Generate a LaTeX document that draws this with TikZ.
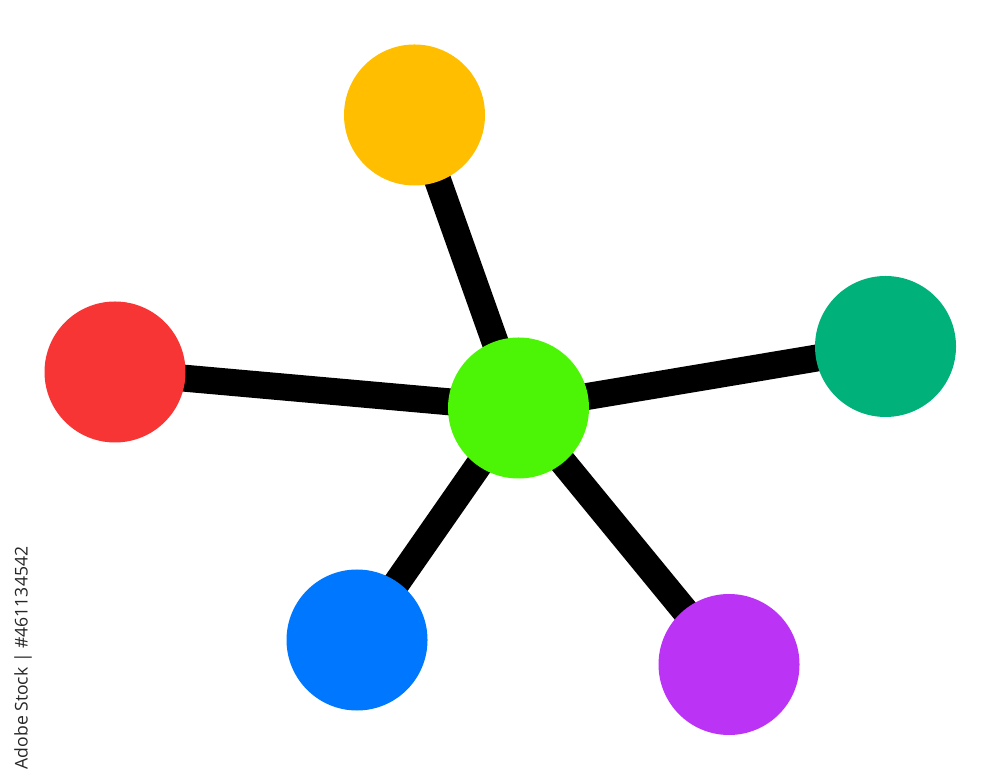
\documentclass[tikz,border=0pt]{standalone}
\usepackage{fontspec}
\setmainfont{Open Sans}
\usetikzlibrary{backgrounds}

\definecolor{hubgreen}{HTML}{4CF505}
\definecolor{atomyellow}{HTML}{FFBE00}
\definecolor{atomred}{HTML}{F73535}
\definecolor{atomteal}{HTML}{00B27A}
\definecolor{atomblue}{HTML}{0077FF}
\definecolor{atompurple}{HTML}{BB33F5}

\begin{document}
\begin{tikzpicture}[
    atom/.style={circle, minimum size=1.41cm, inner sep=0pt},
    bond/.style={line width=0.27cm, black}
]

    % 1. Fix the frame of the picture
    \useasboundingbox (0,0) rectangle (10,7.8);

    % 2. The hub in the middle
    \node[atom, fill=hubgreen] (hub) at (5.185,3.72) {};

    % 3. The five outer atoms
    \node[atom, fill=atomyellow] (yellow) at (4.145,6.65) {};
    \node[atom, fill=atomred]    (red)    at (1.15,4.08)  {};
    \node[atom, fill=atomteal]   (teal)   at (8.855,4.335) {};
    \node[atom, fill=atomblue]   (blue)   at (3.57,1.40)  {};
    \node[atom, fill=atompurple] (purple) at (7.29,1.155) {};

    % 4. Bonds from the hub, behind the atoms
    \begin{scope}[on background layer]
        \draw[bond] (hub.center) -- (yellow.center);
        \draw[bond] (hub.center) -- (red.center);
        \draw[bond] (hub.center) -- (teal.center);
        \draw[bond] (hub.center) -- (blue.center);
        \draw[bond] (hub.center) -- (purple.center);
    \end{scope}

    % 5. Stock id along the left edge
    \node[rotate=90, text=black!85, font=\fontsize{5}{6}\selectfont, inner sep=0pt]
        (stockid) at (0.23,1.22) {Adobe Stock | \#461134542};

\end{tikzpicture}
\end{document}
